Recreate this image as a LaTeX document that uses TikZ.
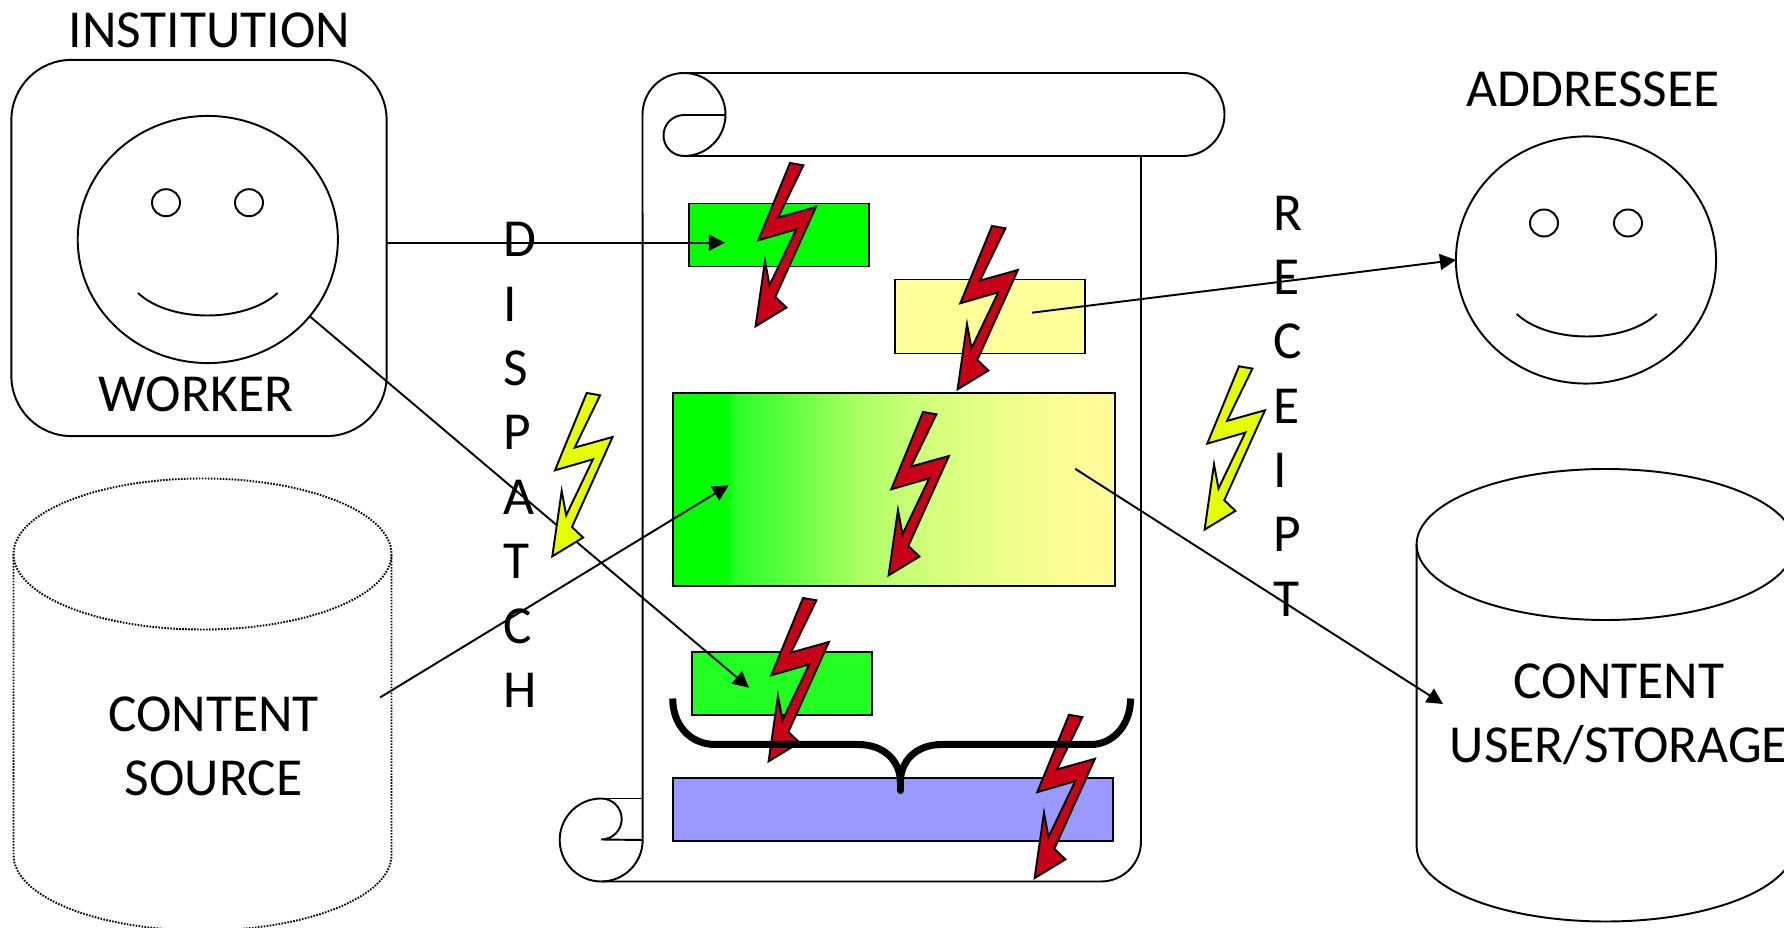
\documentclass[tikz,border=0pt]{standalone}
\usepackage{fontspec}
\setmainfont{Carlito}
\usetikzlibrary{shapes.geometric, arrows.meta, positioning}

\definecolor{boltred}{HTML}{C80018}
\definecolor{boltyellow}{HTML}{E6FF00}
\definecolor{boxgreen}{HTML}{00FF00}
\definecolor{boxlime}{HTML}{22FF22}
\definecolor{boxyellow}{HTML}{FFFF99}
\definecolor{boxblue}{HTML}{9999FF}
\pgfdeclarehorizontalshading{greenyellow}{100bp}{rgb(0bp)=(0,1,0); rgb(31bp)=(0,1,0); rgb(32bp)=(0.16,1,0.16); rgb(38.5bp)=(0.39,1,0.25); rgb(46bp)=(0.67,1,0.39); rgb(53.7bp)=(0.82,1,0.48); rgb(61.2bp)=(0.91,1,0.53); rgb(68.8bp)=(0.98,0.99,0.57); rgb(72bp)=(1,0.985,0.6); rgb(100bp)=(1,0.985,0.6)}

\tikzset{
  outline/.style={draw=black, line width=0.55pt},
  docbox/.style={outline, inner sep=0pt, outer sep=0pt},
  face/.style={outline, ellipse, inner sep=0pt, outer sep=0pt, minimum width=2.6cm, minimum height=2.47cm},
  eye/.style={outline, ellipse, inner sep=0pt, outer sep=0pt, minimum width=0.28cm, minimum height=0.27cm},
  flow/.style={outline, -{Triangle[length=0.16cm, width=0.16cm]}},
  label/.style={inner sep=0pt, align=center, font=\fontsize{15.2}{18.3}\selectfont},
  letters/.style={inner sep=0pt, align=left, anchor=west, font=\fontsize{15.2}{18.3}\selectfont}
}

\begin{document}
\begin{tikzpicture}[x=0.01cm, y=-0.01cm]
        \path[use as bounding box, clip] (0,0) rectangle (1784,928);
        \def\boltpath{(0,0) -- (13.4,2.3) -- (-12,54.6) -- (25.9,44) -- (-14.7,134) -- (-3.6,144.6) -- (-34.4,163.3) -- (-25,98) -- (-20.5,122.3) -- (6.3,66.3) -- (-31.7,77.3) -- cycle}

        % Institution
        \node[outline, rounded corners=0.6cm, minimum width=3.75cm, minimum height=3.76cm, inner sep=0pt, outer sep=0pt] (institution) at (199,248) {};
        \node[face] (worker) at (207.8,239.5) {};
        \node[eye] (workerEyeL) at (166,202.7) {};
        \node[eye] (workerEyeR) at (249,202.7) {};
        \draw[outline] (138,293) .. controls (170,323) and (245,323) .. (277.6,293);

        % Addressee
        \node[face] (addressee) at (1586,260) {};
        \node[eye] (addresseeEyeL) at (1544,223) {};
        \node[eye] (addresseeEyeR) at (1628,223) {};
        \draw[outline] (1516.7,314) .. controls (1549,344) and (1625,344) .. (1656.7,314);

        % Cylinders
        \draw[outline, dash pattern=on 0.45pt off 0.4pt] (202.5,554) ellipse [x radius=189, y radius=75.5];
        \draw[outline, dash pattern=on 0.45pt off 0.4pt] (13.5,554) -- (13.5,855) arc[start angle=180, end angle=0, x radius=189, y radius=75.5] -- (391.5,554);
        \draw[outline] (1605.6,544.5) ellipse [x radius=189, y radius=75.5];
        \draw[outline] (1416.6,544.5) -- (1416.6,846) arc[start angle=180, end angle=0, x radius=189, y radius=75.5] -- (1794.6,544.5);

        % Scroll
        \draw[outline] (725.7,115) -- (684,115) arc[start angle=-90, end angle=-270, radius=20.5] arc[start angle=90, end angle=-180, radius=41.5] -- (642.7,840);
        \draw[outline] (684,73) -- (1183,73) arc[start angle=-90, end angle=90, radius=41.5] -- (684,156);
        \draw[outline] (1141,156) -- (1141,841.5) arc[start angle=0, end angle=90, radius=40] -- (602,881.5);
        \draw[outline] (642.7,840) arc[start angle=0, end angle=270, radius=41.5] arc[start angle=-90, end angle=90, radius=20.5] -- (642.7,840);
        \draw[outline] (602,798.5) -- (642.7,798.5);

        % Boxes
        \node[docbox, fill=boxgreen, minimum width=1.8cm, minimum height=0.63cm] (greenA) at (779,235) {};
        \node[docbox, fill=boxyellow, minimum width=1.9cm, minimum height=0.74cm] (yellowA) at (990,316.5) {};
        \node[docbox, shade, shading=greenyellow, minimum width=4.415cm, minimum height=1.93cm] (mixed) at (894.2,489.5) {};
        \node[docbox, fill=boxlime, minimum width=1.8cm, minimum height=0.63cm] (greenB) at (782,683.5) {};
        \node[docbox, fill=boxblue, minimum width=4.39cm, minimum height=0.63cm] (blueA) at (893,809.5) {};

        % Ends of the arrows
        \coordinate (dispatchOut) at (386.5,242.7);
        \coordinate (dispatchIn) at (725,242.7);
        \coordinate (workerIn) at (749,687.7);
        \coordinate (sourceOut) at (380,697.5);
        \coordinate (sourceIn) at (728.7,485.3);
        \coordinate (yellowOut) at (1032,312.7);
        \coordinate (mixedOut) at (1075.2,468.8);
        \coordinate (storageIn) at (1443,704);

        \draw[flow] (dispatchOut) -- (dispatchIn);
        \draw[flow] (worker.-37.7) -- (workerIn);
        \draw[flow] (sourceOut) -- (sourceIn);
        \draw[flow] (yellowOut) -- (addressee.west);
        \draw[flow] (mixedOut) -- (storageIn);

        % Bolts
        \draw[outline, fill=boltred, shift={(790,163)}] \boltpath;
        \draw[outline, fill=boltred, shift={(992,226)}] \boltpath;
        \draw[outline, fill=boltred, shift={(923,412)}] \boltpath;
        \draw[outline, fill=boltred, shift={(803,598)}] \boltpath;
        \draw[outline, fill=boltred, shift={(1069,714.8)}] \boltpath;
        \draw[outline, fill=boltyellow, shift={(586.7,393)}] \boltpath;
        \draw[outline, fill=boltyellow, shift={(1239,366.3)}] \boltpath;

        % Brace
        \draw[line width=0.07cm] (672.7,698.5) .. controls (672.7,725) and (690,744.5) .. (715.5,744.5) -- (858,744.5) .. controls (885,744.5) and (900.4,762) .. (900.4,782);
        \draw[line width=0.07cm] (1130.6,698.5) .. controls (1130.6,725) and (1113,744.5) .. (1091,744.5) -- (942,744.5) .. controls (915,744.5) and (900.4,762) .. (900.4,782);
        \draw[line width=0.07cm, line cap=round] (900.4,775) -- (900.4,790.5);

        % Labels
        \node[label] (institutionLabel) at (209.4,30.5) {INSTITUTION};
        \node[label] (workerLabel) at (196,394.5) {WORKER};
        \node[label] (addresseeLabel) at (1593,89.5) {ADDRESSEE};
        \node[label] (sourceLabel) at (213.5,746.5) {CONTENT\\SOURCE};
        \node[label] (storageLabel) at (1619,714) {CONTENT\\USER/STORAGE};
        \node[letters] (dispatchLabel) at (503,465) {D\\I\\S\\P\\A\\T\\C\\H};
        \node[letters] (receiptLabel) at (1272.5,406) {R\\E\\C\\E\\I\\P\\T};
\end{tikzpicture}
\end{document}
